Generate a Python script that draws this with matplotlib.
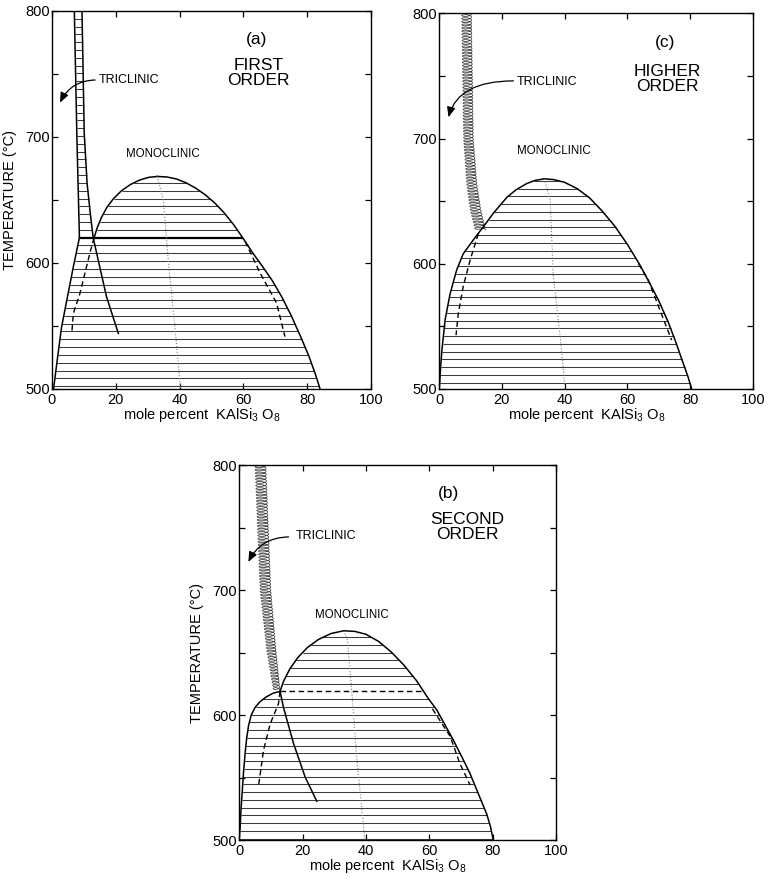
import numpy as np
import matplotlib.pyplot as plt

plt.rcParams['font.family'] = ['Liberation Sans', 'DejaVu Sans']
plt.rcParams['mathtext.fontset'] = 'custom'
plt.rcParams['mathtext.rm'] = 'Liberation Sans'

# ---------------- panel (a): first order ----------------
a_band_l_x = [7.0, 7.8, 8.6]
a_band_l_t = [800, 700, 620]
a_band_r_x = [9.4, 10.1, 11.0, 12.1, 12.9]
a_band_r_t = [800, 703, 663, 637, 620]
a_trans_x = [12.9, 14.5, 17.1, 20.8]
a_trans_t = [620, 602, 573, 544]
a_solvus_x = [0.5, 1.5, 3.0, 5.0, 6.7, 8.6]
a_solvus_t = [500, 520, 549, 575, 597, 620]
a_dome_l_x = [13.2, 14.2, 15.5, 17.2, 19.3, 21.7, 24.5, 27.5, 30.3, 33.0]
a_dome_l_t = [620, 628, 636, 644, 651, 657, 662, 665.7, 667.8, 668.5]
a_meta_l_x = [13.2, 11.9, 8.8, 6.7, 6.2]
a_meta_l_t = [620, 608, 576, 560, 544]
a_dome_r_x = [33, 36, 39, 42, 45, 48, 51, 54, 57, 60, 63, 66, 69, 72, 75, 78, 80.5, 82.5, 84]
a_dome_r_t = [668.5, 668.1, 666.5, 663.5, 659.3, 654, 647.5, 639.5, 630, 619, 607.5, 597,
              586, 573, 558, 541, 526, 512, 500]
a_spin_r_x = [60.5, 65.2, 70.4, 73.0]
a_spin_r_t = [617, 592, 568, 541.5]
a_crest_x = [33.0, 34.9, 36.5, 38.5, 40.3]
a_crest_t = [668.5, 650, 600, 550, 500]
a_t_trans = 620

# ---------------- panel (c): higher order ----------------
c_band_l_x = [7.2, 7.8, 8.8, 9.9, 11.5]
c_band_l_t = [800, 700, 664, 643, 627]
c_band_r_x = [10.3, 10.9, 12.0, 13.3, 14.8]
c_band_r_t = [800, 700, 664, 643, 627]
c_dome_l_x = [0, 0.2, 0.5, 0.9, 1.9, 3.5, 5.6, 7.7, 10.9, 14.1, 17.5, 21.6, 24.5, 27.9, 30.5, 33.5]
c_dome_l_t = [500, 505, 518, 531, 555, 576, 595, 608, 619, 629.5, 641, 653, 659, 664, 666.5, 667.8]
c_dome_r_x = [33.5, 36.5, 40, 44, 48, 52, 56, 60, 64, 67, 70, 73, 75.5, 77.8, 79.3, 80.5]
c_dome_r_t = [667.8, 667.2, 665, 660, 652.5, 642, 630, 615.5, 599, 585, 570.5, 553.5, 537,
              520.5, 510, 500]
c_spin_l_x = [12.5, 9.9, 7.7, 6.1, 5.4]
c_spin_l_t = [624, 603, 582, 560, 543]
c_spin_r_x = [63.5, 66.5, 69.3, 74.1]
c_spin_r_t = [600, 588, 570, 539]
c_crest_x = [33.5, 35.4, 36.4, 38.5, 40.1]
c_crest_t = [667.8, 651, 590, 544, 502]
c_t_low = 505

# ---------------- panel (b): second order ----------------
b_band_l_x = [5.0, 6.6, 8.7, 10.8]
b_band_l_t = [800, 700, 652, 620]
b_band_r_x = [8.4, 10.0, 11.6, 12.9]
b_band_r_t = [800, 700, 652, 619]
b_lobe_x = [0, 0.3, 0.6, 1.0, 1.4, 1.9, 2.4, 3.0, 3.8, 5.0, 6.5, 8.5, 10.7, 12.9]
b_lobe_t = [500, 510, 525, 540, 555, 570, 582, 592, 600, 606, 610.5, 614.5, 617.5, 619]
b_dome_l_x = [12.9, 14.0, 16.0, 18.5, 21.5, 25.0, 29.0, 33.0]
b_dome_l_t = [619, 627, 637, 646, 654, 660.5, 665.3, 667.5]
b_meta_l_x = [12.9, 12.4, 9.8, 7.7, 6.1]
b_meta_l_t = [619, 609, 593, 572, 543]
b_trans_x = [12.9, 14.0, 17.2, 20.8, 24.5]
b_trans_t = [619, 606, 577, 550.6, 531]
b_dome_r_x = [33, 36.5, 40, 44, 48, 52, 56, 59.5, 62.4, 65, 67.6, 70.3, 72.9, 75.5, 78.1, 79.3, 80.2]
b_dome_r_t = [667.5, 667, 664.7, 659, 650.5, 640, 627.5, 614, 604, 592, 580, 566.5, 553,
              537, 521, 511, 500]
b_spin_r_x = [61.0, 66.6, 69.7, 72.9]
b_spin_r_t = [605, 583, 561, 544]
b_crest_x = [33.0, 34.2, 36.1, 37.1, 39.7]
b_crest_t = [667.5, 660, 601, 566, 500]
b_t_trans = 619

tie_step = 6.2
tie_kw = dict(color='#3a3a3a', lw=0.75)
line_kw = dict(color='black', lw=1.1)
dash_kw = dict(color='black', lw=1.0, ls=(0, (4, 2.5)))
dot_kw = dict(color='#808080', lw=0.8, ls=':')


def x_at(xs, ts, t):
    xs = np.asarray(xs, float)
    ts = np.asarray(ts, float)
    order = np.argsort(ts)
    return np.interp(t, ts[order], xs[order])


def ties(ax, t, lx, lt, rx, rt):
    t = np.asarray(t)
    ax.hlines(t, x_at(lx, lt, t), x_at(rx, rt, t), **tie_kw)


def coil(ax, lx, lt, rx, rt, t0, t1, pitch=2.5, r=1.3):
    n = (t1 + 3 - t0) / pitch
    s = np.linspace(0, 2 * np.pi * n, int(40 * n))
    tc = t0 + pitch * s / (2 * np.pi)
    xl = x_at(lx, lt, tc)
    xr = x_at(rx, rt, tc)
    x = 0.5 * (xl + xr) + 0.5 * (xr - xl) * np.cos(s)
    ax.plot(x, tc + r * np.sin(s), color='#444444', lw=0.6)


def frame(ax, ylabel=True):
    ax.set_xlim(0, 100)
    ax.set_ylim(500, 800)
    ax.set_xticks([0, 20, 40, 60, 80, 100])
    ax.set_yticks([500, 550, 600, 650, 700, 750, 800])
    ax.set_yticklabels(['500', '', '600', '', '700', '', '800'])
    ax.tick_params(direction='in', top=True, right=True, length=4.5, width=0.9,
                   labelsize=10.5)
    ax.tick_params(axis='y', pad=1.5)
    ax.tick_params(axis='x', pad=3)
    for sp in ax.spines.values():
        sp.set_linewidth(1.0)
    ax.set_xlabel(r'mole percent  KAlSi$_{\mathregular{3}}$ O$_{\mathregular{8}}$', fontsize=10.5)
    ax.xaxis.set_label_coords(0.47, -0.045)
    if ylabel:
        ax.set_ylabel('TEMPERATURE (°C)', fontsize=10.5)
        ax.yaxis.set_label_coords(-0.11, 0.5)


def labels(ax, tag, tag_xy, order, order_xy, tri_xy, arrow_from, arrow_to, mono_xy, conn):
    ax.text(*tag_xy, tag, ha='center', va='center', fontsize=12.5)
    ax.text(*order_xy, order, ha='center', va='center', fontsize=12.5, linespacing=1.0)
    ax.text(*tri_xy, 'TRICLINIC', ha='left', va='center', fontsize=9)
    ax.text(*mono_xy, 'MONOCLINIC', ha='center', va='center', fontsize=8.3)
    ax.annotate('', xy=arrow_to, xytext=arrow_from,
                arrowprops=dict(arrowstyle='-|>,head_length=0.6,head_width=0.25',
                                connectionstyle=conn, lw=0.9, color='black',
                                shrinkA=0, shrinkB=0))


fig = plt.figure(figsize=(7.69, 8.86), dpi=100)
ax_a = fig.add_axes([0.0676, 0.561, 0.415, 0.427])
ax_c = fig.add_axes([0.571, 0.561, 0.408, 0.424])
ax_b = fig.add_axes([0.311, 0.0519, 0.412, 0.423])

# ---- (a) ----
ax = ax_a
t_below = np.arange(a_t_trans, 499, -tie_step)[1:]
t_above = np.arange(a_t_trans + tie_step, 668, tie_step)
ties(ax, t_below, a_solvus_x, a_solvus_t, a_dome_r_x, a_dome_r_t)
ties(ax, t_above, a_dome_l_x, a_dome_l_t, a_dome_r_x, a_dome_r_t)
t_band = np.arange(a_t_trans + tie_step, 801, tie_step)
ties(ax, t_band, a_band_l_x, a_band_l_t, a_band_r_x, a_band_r_t)
ax.hlines(a_t_trans, x_at(a_solvus_x, a_solvus_t, a_t_trans),
          x_at(a_dome_r_x, a_dome_r_t, a_t_trans), color='black', lw=1.6)
ax.plot(a_band_l_x, a_band_l_t, **line_kw)
ax.plot(a_band_r_x, a_band_r_t, **line_kw)
ax.plot(a_trans_x, a_trans_t, **line_kw)
ax.plot(a_solvus_x, a_solvus_t, **line_kw)
ax.plot(a_dome_l_x, a_dome_l_t, **line_kw)
ax.plot(a_dome_r_x, a_dome_r_t, **line_kw)
ax.plot(a_meta_l_x, a_meta_l_t, **dash_kw)
ax.plot(a_spin_r_x, a_spin_r_t, **dash_kw)
ax.plot(a_crest_x, a_crest_t, **dot_kw)
frame(ax)
labels(ax, '(a)', (64.2, 777), 'FIRST\nORDER', (64.7, 750.5), (14.5, 745),
       (13.5, 745), (2.5, 727), (34.6, 686.5), 'arc3,rad=0.3')

# ---- (c) ----
ax = ax_c
t_c = np.arange(c_t_low, 667, tie_step)
ties(ax, t_c, c_dome_l_x, c_dome_l_t, c_dome_r_x, c_dome_r_t)
coil(ax, c_band_l_x, c_band_l_t, c_band_r_x, c_band_r_t, 627, 800)
ax.plot(c_dome_l_x, c_dome_l_t, **line_kw)
ax.plot(c_dome_r_x, c_dome_r_t, **line_kw)
ax.plot(c_spin_l_x, c_spin_l_t, **dash_kw)
ax.plot(c_spin_r_x, c_spin_r_t, **dash_kw)
ax.plot(c_crest_x, c_crest_t, **dot_kw)
frame(ax, ylabel=False)
labels(ax, '(c)', (72, 777), 'HIGHER\nORDER', (72.6, 747.5), (24.7, 745.3),
       (23.7, 746), (3.0, 717), (36.5, 690), 'angle3,angleA=0,angleB=75')

# ---- (b) ----
ax = ax_b
t_below = np.arange(b_t_trans, 499, -tie_step)[1:]
t_above = np.arange(b_t_trans + tie_step, 667, tie_step)
ties(ax, t_below, b_lobe_x, b_lobe_t, b_dome_r_x, b_dome_r_t)
ties(ax, t_above, b_dome_l_x, b_dome_l_t, b_dome_r_x, b_dome_r_t)
ax.hlines(b_t_trans, x_at(b_lobe_x, b_lobe_t, b_t_trans),
          x_at(b_dome_r_x, b_dome_r_t, b_t_trans), color='black', lw=1.0,
          linestyles=[(0, (4, 2.5))])
coil(ax, b_band_l_x, b_band_l_t, b_band_r_x, b_band_r_t, 620, 800)
ax.plot(b_lobe_x, b_lobe_t, **line_kw)
ax.plot(b_dome_l_x, b_dome_l_t, **line_kw)
ax.plot(b_dome_r_x, b_dome_r_t, **line_kw)
ax.plot(b_trans_x, b_trans_t, **line_kw)
ax.plot(b_meta_l_x, b_meta_l_t, **dash_kw)
ax.plot(b_spin_r_x, b_spin_r_t, **dash_kw)
ax.plot(b_crest_x, b_crest_t, **dot_kw)
frame(ax)
labels(ax, '(b)', (66, 777), 'SECOND\nORDER', (71.9, 750.5), (17.7, 743.4),
       (15.6, 742.6), (2.9, 722.6), (35.5, 680), 'arc3,rad=0.3')

fig.savefig('out.png', dpi=100)
